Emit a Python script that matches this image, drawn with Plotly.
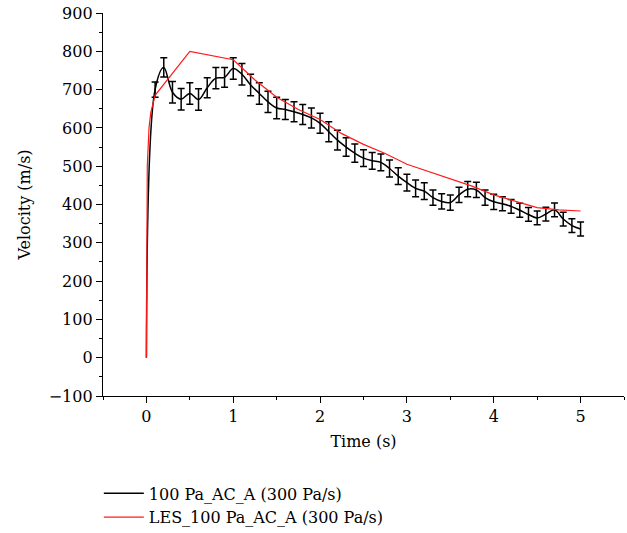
import plotly.graph_objects as go

# Measured (black) series: time (s), velocity (m/s), error (m/s)
t_meas = [0.0, 0.1, 0.2, 0.3, 0.4, 0.5, 0.6, 0.7, 0.8, 0.9, 1.0,
          1.1, 1.2, 1.3, 1.4, 1.5, 1.6, 1.7, 1.8, 1.9, 2.0,
          2.1, 2.2, 2.3, 2.4, 2.5, 2.6, 2.7, 2.8, 2.9, 3.0,
          3.1, 3.2, 3.3, 3.4, 3.5, 3.6, 3.7, 3.8, 3.9, 4.0,
          4.1, 4.2, 4.3, 4.4, 4.5, 4.6, 4.7, 4.8, 4.9, 5.0]
v_meas = [0, 700, 758, 693, 675, 690, 674, 705, 730, 732, 755,
          740, 712, 690, 668, 652, 648, 642, 635, 626, 612,
          590, 568, 550, 534, 521, 514, 510, 494, 474, 457,
          442, 435, 418, 408, 405, 425, 440, 438, 418, 407,
          402, 395, 385, 374, 365, 375, 386, 362, 345, 336]
e_meas = [0, 20, 25, 28, 28, 28, 28, 26, 28, 26, 28,
          28, 28, 28, 28, 28, 26, 26, 26, 26, 26,
          26, 26, 24, 24, 22, 22, 22, 22, 22, 22,
          22, 22, 20, 20, 20, 20, 20, 20, 20, 20,
          18, 18, 18, 18, 18, 18, 18, 18, 18, 18]

# LES (red) series
t_les = [0.0, 0.01, 0.03, 0.05, 0.1, 0.5, 1.0, 1.25, 1.5, 1.75, 2.0,
         2.25, 2.5, 2.75, 3.0, 3.25, 3.5, 3.75, 4.0, 4.25, 4.5, 4.75, 5.0]
v_les = [0, 500, 600, 640, 685, 800, 778, 725, 680, 648, 622,
         585, 557, 533, 505, 486, 469, 448, 425, 408, 392, 386, 383]

x_ticks = [0, 1, 2, 3, 4, 5]
y_ticks = [-100, 0, 100, 200, 300, 400, 500, 600, 700, 800, 900]

FONT = "DejaVu Serif"

fig = go.Figure()
fig.add_trace(go.Scatter(
    x=t_meas, y=v_meas, mode="lines", line=dict(color="black", width=1.5, shape="spline"),
    name="100 Pa_AC_A (300 Pa/s)"))
fig.add_trace(go.Scatter(
    x=t_meas[1:], y=v_meas[1:], mode="markers", marker=dict(size=0.1, color="black", opacity=0),
    error_y=dict(type="data", array=e_meas[1:], visible=True, color="black", thickness=1.5, width=3.5),
    showlegend=False, hoverinfo="skip"))
fig.add_trace(go.Scatter(
    x=t_les, y=v_les, mode="lines", line=dict(color="#ff1a1a", width=1.2),
    name="LES_100 Pa_AC_A (300 Pa/s)"))

axis_common = dict(showline=True, linecolor="black", linewidth=1.3, ticks="outside",
                   tickcolor="black", tickwidth=1.3, ticklen=6, showgrid=False, zeroline=False,
                   automargin=False, tickfont=dict(family=FONT, size=16, color="black"))
fig.update_xaxes(range=[-0.5, 5.5], tickvals=x_ticks, **axis_common,
                 minor=dict(dtick=0.5, tick0=0, ticks="outside", ticklen=3, tickcolor="black", tickwidth=1.3),
                 title=dict(text="Time (s)", font=dict(family=FONT, size=16, color="black"), standoff=10))
fig.update_yaxes(range=[-100, 900], tickvals=y_ticks, **axis_common,
                 minor=dict(dtick=50, tick0=0, ticks="outside", ticklen=3, tickcolor="black", tickwidth=1.3),
                 title=dict(text="Velocity (m/s)", font=dict(family=FONT, size=16, color="black"), standoff=14))

fig.update_layout(
    width=627, height=533, autosize=False,
    margin=dict(l=103, r=3, t=13, b=137, autoexpand=False),
    plot_bgcolor="white", paper_bgcolor="white",
    font=dict(family=FONT, size=16, color="black"),
    legend=dict(x=-0.008, y=-0.210, xanchor="left", yanchor="top", orientation="v",
                font=dict(family=FONT, size=16, color="black"), bgcolor="rgba(0,0,0,0)",
                tracegroupgap=0, itemwidth=40),
)

fig.write_html("out.html")
